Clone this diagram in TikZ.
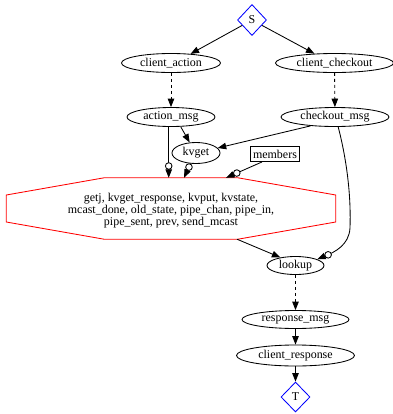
\documentclass[tikz,border=0pt]{standalone}
\usepackage{fontspec}
\setmainfont{Liberation Serif}
\usetikzlibrary{shapes.geometric,arrows.meta,calc}
\begin{document}
\begin{tikzpicture}[x=1bp,y=-1bp,
  every node/.style={font=\fontsize{12}{12}\selectfont, inner sep=0pt},
  ell/.style={ellipse, draw, line width=0.85bp, minimum height=19bp},
  dia/.style={diamond, draw=blue, line width=0.85bp, minimum width=29bp, minimum height=31bp},
  edge/.style={line width=0.85bp},
  arr/.style={edge, -{Triangle[length=8.5bp,width=6.5bp]}},
  darr/.style={arr, dash pattern=on 3bp off 3bp},
  odot/.style={draw, fill=white, line width=0.85bp}
]
\useasboundingbox (0,0) rectangle (393,414);

\node[dia] (S) at (252,20) {S};
\node[ell, minimum width=99bp] (client_action) at (171,63) {client\_action};
\node[ell, minimum width=118bp] (client_checkout) at (334.5,63) {client\_checkout};
\node[ell, minimum width=88bp] (action_msg) at (171,117) {action\_msg};
\node[ell, minimum width=108bp] (checkout_msg) at (335,117) {checkout\_msg};
\node[ell, minimum width=48bp, minimum height=21bp] (kvget) at (196,153) {kvget};
\node[draw, rectangle, line width=0.85bp, minimum width=49bp, minimum height=15bp] (members) at (275,154) {members};
\node[minimum width=329bp, minimum height=61bp] (vars) at (171,208.5) {};
\node[align=center] (varstext) at (171,211) {getj, kvget\_response, kvput, kvstate,\\ mcast\_done, old\_state, pipe\_chan, pipe\_in,\\ pipe\_sent, prev, send\_mcast};
\draw[red, line width=0.85bp]
  ($(vars.north)+(-67,0)$) -- ($(vars.north)+(67,0)$) -- ($(vars.east)+(0,-13.5)$) -- ($(vars.east)+(0,13.5)$)
  -- ($(vars.south)+(67,0)$) -- ($(vars.south)+(-67,0)$) -- ($(vars.west)+(0,13.5)$) -- ($(vars.west)+(0,-13.5)$) -- cycle;
\node[ell, minimum width=57bp, minimum height=18bp] (lookup) at (295.5,265.5) {lookup};
\node[ell, minimum width=107bp, minimum height=18bp] (response_msg) at (295.5,319.5) {response\_msg};
\node[ell, minimum width=118bp, minimum height=21bp] (client_response) at (295.5,355.5) {client\_response};
\node[dia, minimum height=30bp] (T) at (295.5,397) {T};

\draw[arr] (S) -- (client_action.25);
\draw[arr] (S) -- (client_checkout.155);
\draw[darr] (client_action) -- (action_msg);
\draw[darr] (client_checkout) -- (checkout_msg);
\draw[arr] (action_msg.-45) -- (kvget.121);
\draw[arr] (checkout_msg.200) -- (kvget.13);

\coordinate (a1) at (action_msg.257);
\coordinate (a2) at (action_msg.257 |- vars.north);
\draw[arr] (a1) -- (a2);
\draw[odot] ($(a2)!11.8bp!(a1)$) circle (3.3bp);

\coordinate (k1) at (kvget.243);
\coordinate (k2) at ([xshift=13bp]vars.north);
\draw[arr] (k1) -- (k2);
\draw[odot] ($(k2)!11.8bp!(k1)$) circle (3.3bp);

\coordinate (m1) at ([xshift=12bp]members.south west);
\coordinate (m2) at ([xshift=55bp]vars.north);
\draw[arr] (m1) -- (m2);
\draw[odot] ($(m2)!11.8bp!(m1)$) circle (3.3bp);

\coordinate (c1) at (checkout_msg.-72);
\coordinate (c2) at (lookup.16);
\draw[arr] (c1) .. controls (348,165) and (351,200) .. (350,228)
  .. controls (349,245) and (335,252) .. (c2);
\draw[odot] ($(c2)!11.8bp!(335,252)$) circle (3.3bp);

\draw[arr] ([xshift=66bp]vars.south) -- (lookup.152);
\draw[darr] (lookup) -- (response_msg);
\draw[arr] (response_msg) -- (client_response);
\draw[arr] (client_response) -- (T);
\end{tikzpicture}
\end{document}
